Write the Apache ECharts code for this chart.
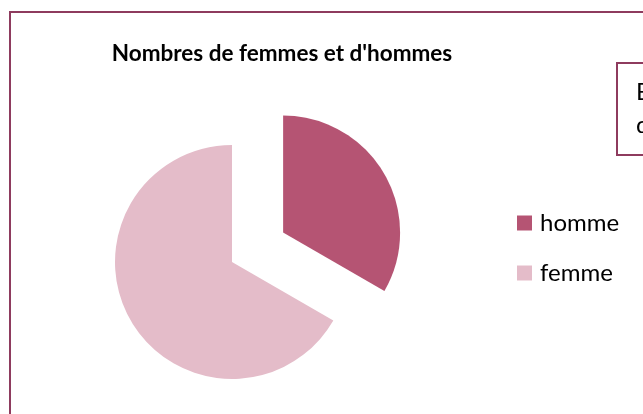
<!DOCTYPE html>
<html>
<head>
<meta charset="utf-8">
<script src="https://cdn.jsdelivr.net/npm/echarts@6/dist/echarts.min.js"></script>
<style>
  html, body { margin: 0; padding: 0; background: #fff; }
  #chart { width: 643px; height: 414px; }
</style>
</head>
<body>
<div id="chart"></div>
<script>
// donnees du graphique
const categories = ['homme', 'femme']
const values = [10, 20]
const colors = ['#B55473', '#E4BCC9']
const boxLines = ['Effectif', 'du groupe']

let myChart = echarts.init(document.getElementById('chart'))
let pieData = []
for (let i = 0; i < categories.length; i++) {
    pieData.push({ name: categories[i], value: values[i], selected: i === 0,
        itemStyle: { color: colors[i] } })
}
let option = {
    animation: false,
    backgroundColor: '#fff',
    title: {
        text: "Nombres de femmes et d'hommes",
        left: 282, top: 42, textAlign: 'center', padding: 0,
        textStyle: { fontFamily: 'Lato', fontWeight: 'bold', fontSize: 22.5, color: '#000' }
    },
    legend: {
        orient: 'vertical',
        left: 517, top: 211, padding: 0,
        icon: 'rect',
        itemWidth: 15, itemHeight: 15, itemGap: 26,
        selectedMode: false,
        textStyle: { fontFamily: 'Lato', fontSize: 24, color: '#000', lineHeight: 24, padding: [0, 0, 0, 3] },
        data: categories
    },
    graphic: [
        { type: 'rect', shape: { x: 10, y: 12, width: 700, height: 500 },
          style: { fill: 'none', stroke: '#8E3B5E', lineWidth: 2 } },
        { type: 'rect', shape: { x: 617, y: 63, width: 100, height: 92 },
          style: { fill: '#fff', stroke: '#8E3B5E', lineWidth: 2 } },
        { type: 'text', left: 636, top: 80,
          style: { text: boxLines[0], fontFamily: 'Lato', fontSize: 24, fill: '#000' } },
        { type: 'text', left: 636, top: 113,
          style: { text: boxLines[1], fontFamily: 'Lato', fontSize: 24, fill: '#000' } }
    ],
    series: [{
        type: 'pie',
        center: [232, 262],
        radius: 117,
        startAngle: 90,
        clockwise: true,
        selectedMode: 'multiple',
        selectedOffset: 59,
        label: { show: false },
        labelLine: { show: false },
        emphasis: { disabled: true },
        data: pieData
    }]
}
myChart.setOption(option)
window.addEventListener('resize', function () {
    myChart.resize()
})
</script>
</body>
</html>
